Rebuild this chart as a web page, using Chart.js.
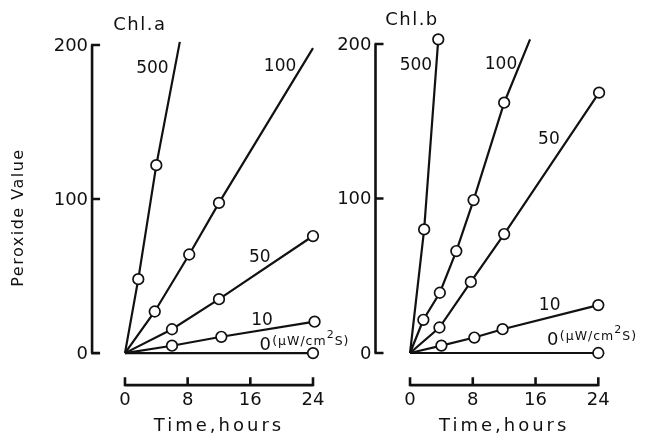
<!DOCTYPE html>
<html>
<head>
<meta charset="utf-8">
<script src="https://cdn.jsdelivr.net/npm/chart.js@4"></script>
<style>
  html, body { margin: 0; background: #fff; }
  #wrap { position: relative; width: 646px; height: 437px; }
  canvas { position: absolute; left: 0; top: 0; }
</style>
</head>
<body>
<div id="wrap">
  <canvas id="chlA" width="646" height="437"></canvas>
  <canvas id="chlB" width="646" height="437"></canvas>
</div>
<script>
// tick labels
const xTicks = [0, 8, 16, 24]
const yTicks = [0, 100, 200]

// Chl.a  [hours, peroxide value], line starts at origin
const a500 = [[1.7, 48], [4, 122]]
const a500End = [7, 202]
const a100 = [[3.8, 27], [8.2, 64], [12, 97.5]]
const a100End = [24, 198]
const a50 = [[6, 15.5], [12, 35], [24, 76]]
const a10 = [[6, 4.8], [12.3, 10.6], [24.2, 20.4]]
const a0 = [[24, 0]]

// Chl.b
const b500 = [[1.8, 80], [3.6, 203]]
const b100 = [[1.7, 21.5], [3.8, 39], [5.9, 66], [8.1, 99], [12, 162]]
const b100End = [15.3, 203]
const b50 = [[3.75, 16.5], [7.75, 46], [12, 77], [24.1, 168.5]]
const b10 = [[4, 4.8], [8.2, 10], [11.8, 15.4], [24, 31]]
const b0 = [[24, 0]]

const ink = "#111"
const font = '"DejaVu Sans", sans-serif'

function series(pts, end){
  let data = [{x: 0, y: 0}].concat(pts.map(p => ({x: p[0], y: p[1]})))
  if(end) data.push({x: end[0], y: end[1]})
  let radius = data.map((d, i) => (i == 0 || (end && i == data.length - 1)) ? 0 : 5.3)
  return {
    data: data,
    showLine: true,
    borderColor: ink,
    borderWidth: 2.2,
    pointRadius: radius,
    pointBackgroundColor: "#fff",
    pointBorderColor: ink,
    pointBorderWidth: 1.7,
    clip: false
  }
}

// axes drawn apart from the plot, like the printed figure
const detachedAxes = {
  id: "detachedAxes",
  afterDraw(chart, args, o){
    const ctx = chart.ctx
    const x = chart.scales.x, y = chart.scales.y
    const ax = x.getPixelForValue(o.yAxisAt)
    const ay = y.getPixelForValue(o.xAxisAt)
    ctx.save()
    ctx.strokeStyle = ink
    ctx.lineWidth = 2.6
    ctx.beginPath()
    ctx.moveTo(ax, y.getPixelForValue(yTicks[0]))
    ctx.lineTo(ax, y.getPixelForValue(yTicks[yTicks.length - 1]))
    yTicks.forEach(v => {
      let py = y.getPixelForValue(v)
      ctx.moveTo(ax - 1, py); ctx.lineTo(ax + 8, py)
    })
    ctx.moveTo(x.getPixelForValue(xTicks[0]), ay)
    ctx.lineTo(x.getPixelForValue(xTicks[xTicks.length - 1]), ay)
    xTicks.forEach(v => {
      let px = x.getPixelForValue(v)
      ctx.moveTo(px, ay + 1); ctx.lineTo(px, ay - 8)
    })
    ctx.stroke()

    ctx.fillStyle = ink
    ctx.font = "18px " + font
    ctx.textBaseline = "middle"
    ctx.textAlign = "right"
    yTicks.forEach(v => ctx.fillText(String(v), ax - 4, y.getPixelForValue(v) + 1))
    ctx.textAlign = "center"
    xTicks.forEach(v => ctx.fillText(String(v), x.getPixelForValue(v), ay + 15))

    ctx.letterSpacing = "3px"
    ctx.fillText("Time,hours", (x.getPixelForValue(xTicks[0]) + x.getPixelForValue(xTicks[3])) / 2, ay + 41)

    ctx.letterSpacing = "1.5px"
    ctx.fillText(o.title[0], x.getPixelForValue(o.title[1]), y.getPixelForValue(o.title[2]))

    ctx.letterSpacing = "0px"
    ctx.font = "17px " + font
    o.curves.forEach(c => ctx.fillText(c[0], x.getPixelForValue(c[1]), y.getPixelForValue(c[2])))

    // 0 (µW/cm2S)
    let ux = x.getPixelForValue(o.unitAt[0]), uy = y.getPixelForValue(o.unitAt[1])
    ctx.font = "18px " + font
    ctx.fillText("0", ux, uy)
    ctx.textAlign = "left"
    ctx.letterSpacing = "1px"
    ctx.font = "12.5px " + font
    let px = ux + 7
    ctx.fillText("(μW/cm", px, uy - 3)
    px += ctx.measureText("(μW/cm").width
    ctx.font = "11px " + font
    ctx.fillText("2", px, uy - 10)
    px += ctx.measureText("2").width
    ctx.font = "12.5px " + font
    ctx.fillText("S)", px, uy - 3)

    if(o.yTitle){
      ctx.translate(ax - 73, y.getPixelForValue(88))
      ctx.rotate(-Math.PI / 2)
      ctx.textAlign = "center"
      ctx.font = "16px " + font
      ctx.letterSpacing = "1.5px"
      ctx.fillText(o.yTitle, 0, 0)
    }
    ctx.restore()
  }
}

function panel(id, sets, pad, opts){
  return new Chart(id, {
    type: "scatter",
    data: { datasets: sets },
    options: {
      responsive: false,
      animation: false,
      events: [],
      layout: { padding: pad },
      plugins: { legend: { display: false }, tooltip: { enabled: false }, detachedAxes: opts },
      scales: {
        x: { type: "linear", min: -5, max: 24, display: false },
        y: { type: "linear", min: -22, max: 200, display: false }
      }
    },
    plugins: [detachedAxes]
  })
}

panel("chlA",
  [series(a500, a500End), series(a100, a100End), series(a50), series(a10), series(a0)],
  { left: 85.8, right: 333, top: 45, bottom: 50 },
  {
    yAxisAt: -4.2, xAxisAt: -20.8,
    title: ["Chl.a", 1.9, 213],
    curves: [["500", 3.5, 185], ["100", 19.8, 186], ["50", 17.2, 62], ["10", 17.5, 21.4]],
    unitAt: [17.9, 5.2],
    yTitle: "Peroxide Value"
  })

panel("chlB",
  [series(b500), series(b100, b100End), series(b50), series(b10), series(b0)],
  { left: 370.8, right: 47.7, top: 44, bottom: 50 },
  {
    yAxisAt: -4.4, xAxisAt: -20.8,
    title: ["Chl.b", 0.25, 215],
    curves: [["500", 0.75, 186], ["100", 11.6, 187], ["50", 17.7, 138], ["10", 17.8, 31]],
    unitAt: [18.2, 8.4]
  })
</script>
</body>
</html>
